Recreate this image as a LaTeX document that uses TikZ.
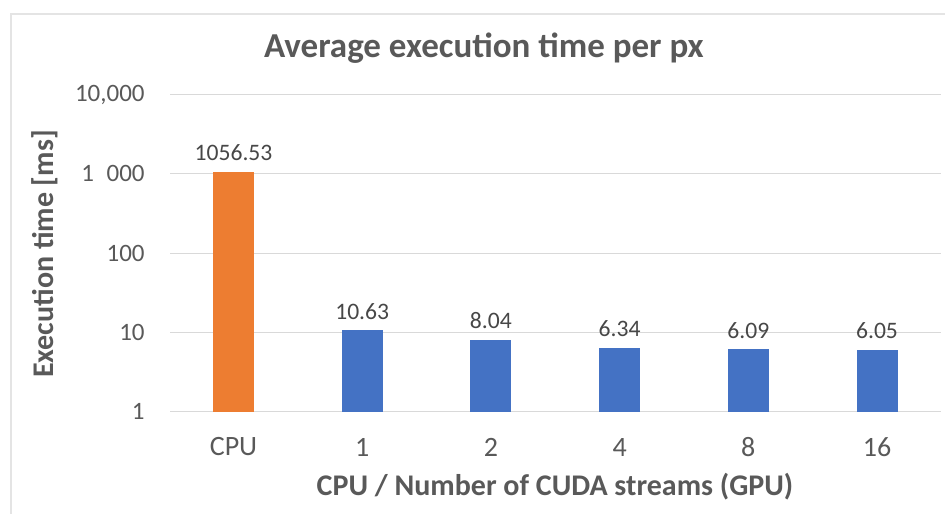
\documentclass[tikz,border=0pt]{standalone}
\usepackage{fontspec}
\setmainfont{Carlito}
\usetikzlibrary{positioning}

\definecolor{cpuorange}{HTML}{ED7D31}
\definecolor{gpublue}{HTML}{4472C4}
\definecolor{txtgrey}{HTML}{595959}
\definecolor{gridgrey}{HTML}{D9D9D9}

\tikzset{
  gridline/.style={gridgrey, line width=0.6pt},
  ticklabel/.style={text=txtgrey, font=\fontsize{12.5}{14}\selectfont, anchor=east, inner sep=0pt},
  catlabel/.style={text=txtgrey, font=\fontsize{14}{16}\selectfont, inner sep=0pt},
  datalabel/.style={text=txtgrey!80!black, font=\fontsize{11.8}{13}\selectfont, inner sep=0pt},
  axtitle/.style={text=txtgrey, font=\bfseries\fontsize{15}{17}\selectfont, inner sep=0pt},
}

\begin{document}
\begin{tikzpicture}[x=0.5pt,y=-0.5pt]
  \useasboundingbox (0,0) rectangle (945,514);
  % chart frame (runs off the right and bottom edge)
  \draw[gridgrey!70, line width=0.8pt] (11,514) -- (11,14) -- (945,14);

  % title
  \node[text=txtgrey, font=\bfseries\fontsize{17.5}{19}\selectfont, inner sep=0pt] (title) at (484,48) {Average execution time per px};

  % log grid, one decade = 79.3px
  \foreach \lab [count=\k from 0] in {1,10,100,{1\enspace000},{10,000}} {
    \draw[gridline] (170,411.7-79.3*\k) coordinate (g\k) -- (941,411.7-79.3*\k);
    \node[ticklabel] (t\k) at (145,411.7-79.3*\k) {\lab};
  }

  % bars
  \foreach \lab/\val/\col [count=\i from 0] in {CPU/1056.53/cpuorange, 1/10.63/gpublue, 2/8.04/gpublue, 4/6.34/gpublue, 8/6.09/gpublue, 16/6.05/gpublue} {
    \pgfmathsetmacro\xc{233.5+128.7*\i}
    \pgfmathsetmacro\yt{411.7-79.3*log10(\val)}
    \fill[\col] (\xc-20.5,411.7) rectangle (\xc+20.5,\yt);
    \coordinate (top\i) at (\xc,\yt);
    \node[datalabel] (v\i) at (\xc,\yt-19) {\val};
    \node[catlabel] (c\i) at (\xc,447) {\lab};
  }

  % axis titles
  \node[axtitle] (xtitle) at (555,487) {CPU / Number of CUDA streams (GPU)};
  \node[axtitle, rotate=90] (ytitle) at (45,254) {Execution time [ms]};
\end{tikzpicture}
\end{document}
